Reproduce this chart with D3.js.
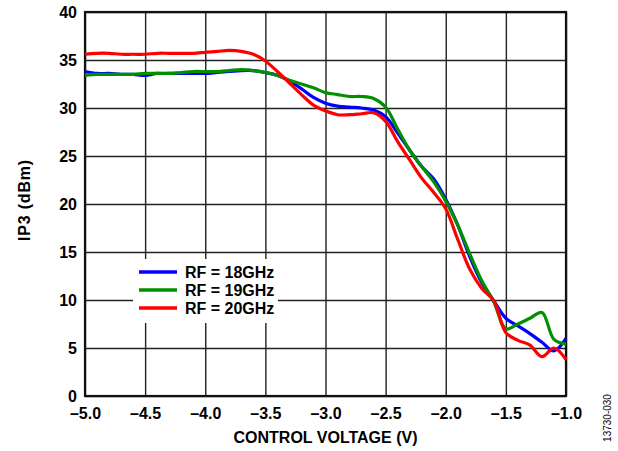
<!DOCTYPE html>
<html>
<head>
<meta charset="utf-8">
<title>IP3 vs Control Voltage</title>
<style>
  body { margin: 0; background: #fff; }
  svg { display: block; font-family: "Liberation Sans", Arial, sans-serif; }
</style>
</head>
<body>
<main></main>
<script src="https://cdnjs.cloudflare.com/ajax/libs/d3/7.8.5/d3.min.js"></script>
<script>
// control voltage (V)
const voltage = [-5.0, -4.9, -4.8, -4.7, -4.6, -4.5, -4.4, -4.3, -4.2, -4.1,
                 -4.0, -3.9, -3.8, -3.7, -3.6, -3.5, -3.4, -3.3, -3.2, -3.1,
                 -3.0, -2.9, -2.8, -2.7, -2.6, -2.5, -2.4, -2.3, -2.2, -2.1,
                 -2.0, -1.9, -1.8, -1.7, -1.6, -1.5, -1.4, -1.3, -1.2, -1.1, -1.0];

// IP3 (dBm)
const ip3_18 = [33.8, 33.6, 33.6, 33.5, 33.5, 33.4, 33.6, 33.6, 33.6, 33.6,
                33.6, 33.7, 33.8, 33.9, 33.9, 33.7, 33.4, 32.8, 32.0, 31.1,
                30.5, 30.2, 30.1, 30.0, 29.8, 29.1, 27.4, 25.6, 23.9, 22.6,
                20.5, 17.8, 14.5, 11.8, 9.9, 8.1, 7.3, 6.5, 5.6, 4.7, 6.0];
const ip3_19 = [33.4, 33.5, 33.5, 33.5, 33.5, 33.6, 33.6, 33.6, 33.7, 33.8,
                33.8, 33.8, 33.9, 34.0, 33.9, 33.7, 33.4, 32.9, 32.5, 32.1,
                31.6, 31.4, 31.2, 31.2, 31.0, 30.1, 27.8, 25.6, 23.9, 22.3,
                20.3, 17.8, 14.8, 12.0, 9.8, 7.0, 7.5, 8.1, 8.7, 5.9, 5.4];
const ip3_20 = [35.6, 35.7, 35.7, 35.6, 35.6, 35.6, 35.7, 35.7, 35.7, 35.7,
                35.8, 35.9, 36.0, 35.9, 35.6, 34.9, 33.8, 32.6, 31.4, 30.3,
                29.7, 29.3, 29.3, 29.4, 29.5, 28.6, 26.5, 24.6, 22.7, 21.2,
                19.5, 16.3, 13.2, 11.2, 9.9, 6.6, 5.8, 5.3, 4.1, 5.0, 3.8];

const seriesNames = ["RF = 18GHz", "RF = 19GHz", "RF = 20GHz"];
const seriesColors = ["#0000ff", "#009000", "#ff0000"];
const xTicks = [-5.0, -4.5, -4.0, -3.5, -3.0, -2.5, -2.0, -1.5, -1.0];
const yTicks = [0, 5, 10, 15, 20, 25, 30, 35, 40];

const width = 618, height = 451;
const margin = {left: 85, right: 52, top: 12, bottom: 55};

const svg = d3.select("main").append("svg")
  .attr("width", width)
  .attr("height", height);

const x = d3.scaleLinear().domain([-5, -1]).range([margin.left, width - margin.right]);
const y = d3.scaleLinear().domain([0, 40]).range([height - margin.bottom, margin.top]);

const fmtX = d => d3.format(".1f")(d).replace("-", "\u2013").replace("\u2212", "\u2013");

// grid
svg.append("g")
  .attr("transform", `translate(0,${y(0)})`)
  .call(d3.axisBottom(x).tickValues(xTicks).tickSize(-(y(0) - y(40))).tickFormat(fmtX))
  .call(g => g.select(".domain").remove())
  .call(g => g.selectAll("line").attr("stroke", "#222").attr("stroke-width", 1.4))
  .call(g => g.selectAll("text")
    .attr("y", 12).attr("dy", "0.71em")
    .attr("fill", "#000").style("font-size", "16px").style("font-weight", "bold"));

svg.append("g")
  .attr("transform", `translate(${x(-5)},0)`)
  .call(d3.axisLeft(y).tickValues(yTicks).tickSize(-(x(-1) - x(-5))))
  .call(g => g.select(".domain").remove())
  .call(g => g.selectAll("line").attr("stroke", "#222").attr("stroke-width", 1.4))
  .call(g => g.selectAll("text")
    .attr("x", -8)
    .attr("fill", "#000").style("font-size", "16px").style("font-weight", "bold"));

// frame
svg.append("rect")
  .attr("x", x(-5)).attr("y", y(40))
  .attr("width", x(-1) - x(-5)).attr("height", y(0) - y(40))
  .attr("fill", "none").attr("stroke", "#111").attr("stroke-width", 2.2);

// legend box (white, covers grid)
const lg = svg.append("g");
lg.append("rect")
  .attr("x", 133).attr("y", 259).attr("width", 145).attr("height", 64)
  .attr("fill", "#fff");

// curves
const line = d3.line()
  .x((d, i) => x(voltage[i]))
  .y(d => y(d))
  .curve(d3.curveCatmullRom.alpha(0.5));

[ip3_18, ip3_19, ip3_20].forEach((s, k) => {
  svg.append("path")
    .datum(s)
    .attr("d", line)
    .attr("fill", "none")
    .attr("stroke", seriesColors[k])
    .attr("stroke-width", 3.2)
    .attr("stroke-linejoin", "round");
});

seriesNames.forEach((n, k) => {
  const yy = 272 + k * 18;
  lg.append("line")
    .attr("x1", 139).attr("x2", 177).attr("y1", yy).attr("y2", yy)
    .attr("stroke", seriesColors[k]).attr("stroke-width", 3.5);
  lg.append("text")
    .attr("x", 185).attr("y", yy).attr("dy", "0.36em")
    .style("font-size", "16px").style("font-weight", "bold")
    .text(n);
});

// axis titles
svg.append("text")
  .attr("x", (x(-5) + x(-1)) / 2).attr("y", 443)
  .attr("text-anchor", "middle")
  .style("font-size", "16px").style("font-weight", "bold")
  .text("CONTROL VOLTAGE (V)");

svg.append("text")
  .attr("transform", "translate(30,200) rotate(-90)")
  .attr("text-anchor", "middle")
  .style("font-size", "16px").style("font-weight", "bold")
  .style("letter-spacing", "0.8px")
  .text("IP3 (dBm)");

svg.append("text")
  .attr("transform", "translate(611,418) rotate(-90)")
  .attr("text-anchor", "middle")
  .style("font-size", "10px")
  .text("13730-030");
</script>
</body>
</html>
